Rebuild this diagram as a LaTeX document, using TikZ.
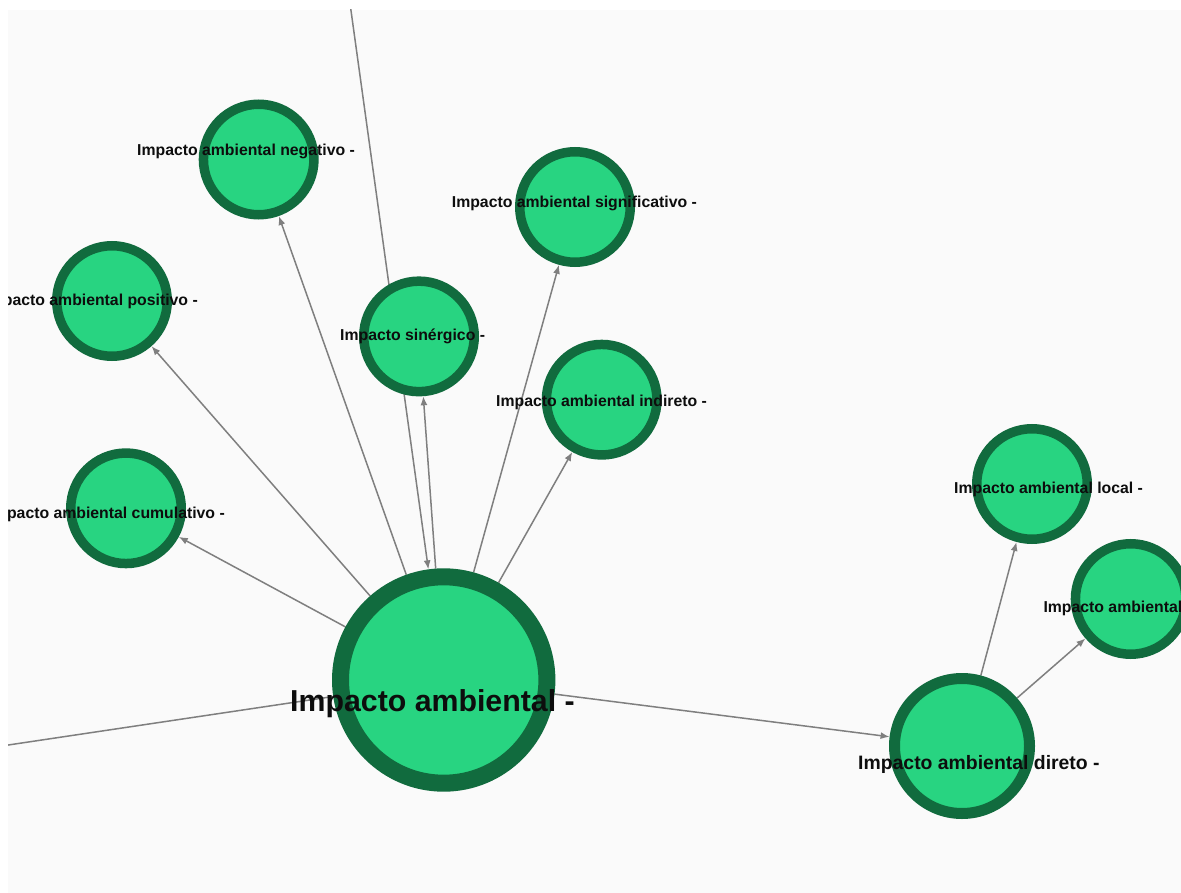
\documentclass[tikz,border=0pt]{standalone}
\usepackage{fontspec}
\setmainfont{Liberation Sans}
\usetikzlibrary{arrows.meta}
\definecolor{panel}{HTML}{FAFAFA}
\definecolor{nodefill}{HTML}{28D481}
\definecolor{nodeline}{HTML}{116B3E}
\definecolor{edgecol}{HTML}{7F7F7F}
\pgfdeclarelayer{bglayer}
\pgfdeclarelayer{edgelayer}
\pgfsetlayers{bglayer,edgelayer,main}
\tikzset{
  bignode/.style={circle, fill=nodefill, draw=nodeline, line width=17pt, minimum size=206.4pt, inner sep=0pt},
  midnode/.style={circle, fill=nodefill, draw=nodeline, line width=11pt, minimum size=135pt, inner sep=0pt},
  smallnode/.style={circle, fill=nodefill, draw=nodeline, line width=9.5pt, minimum size=110.5pt, inner sep=0pt},
  lbl/.style={inner sep=0pt, text=black!95, anchor=base west},
  lblsmall/.style={lbl, font=\bfseries\fontsize{15.8}{18}\selectfont},
  lblmid/.style={lbl, font=\bfseries\fontsize{19.4}{22}\selectfont},
  lblbig/.style={lbl, font=\bfseries\fontsize{30.3}{34}\selectfont},
  link/.style={draw=edgecol, line width=1.5pt, -{Latex[length=9pt,width=7pt]}},
  plainlink/.style={draw=edgecol, line width=1.5pt}
}
\begin{document}
\begin{tikzpicture}[x=1pt,y=-1pt]
\useasboundingbox (0,0) rectangle (1181,893);
\begin{pgfonlayer}{bglayer}
  \fill[white] (0,0) rectangle (1181,893);
  \fill[panel] (8,10) rectangle (1181,893);
\end{pgfonlayer}
\begin{scope}
\clip (8,10) rectangle (1181,893);
% nodes
\node[bignode] (big) at (443.7,680) {};
\node[midnode] (direto) at (962,746) {};
\node[smallnode] (regional) at (1130.7,599) {};
\node[smallnode] (local) at (1032,484) {};
\node[smallnode] (negat) at (258.7,159.5) {};
\node[smallnode] (posit) at (112,301) {};
\node[smallnode] (cumul) at (126,508.3) {};
\node[smallnode] (signif) at (575,207) {};
\node[smallnode] (indir) at (601.7,399.7) {};
\node[smallnode] (siner) at (419,336.4) {};
\coordinate (topc) at (342.6,-50);
\coordinate (leftc) at (-50,753.7);
% labels
\node[lblsmall] (lnegat) at (137,156) {Impacto ambiental negativo -};
\node[lblsmall, anchor=base east] (lposit) at (198,305.7) {Impacto ambiental positivo -};
\node[lblsmall, anchor=base east] (lcumul) at (225,518.4) {Impacto ambiental cumulativo -};
\node[lblsmall] (lsigni) at (451.7,207.5) {Impacto ambiental significativo -};
\node[lblsmall] (lindir) at (496,406.5) {Impacto ambiental indireto -};
\node[lblsmall] (lsiner) at (340,341) {Impacto sinérgico -};
\node[lblsmall] (llocal) at (954,493.4) {Impacto ambiental local -};
\node[lblsmall] (lregio) at (1043.3,612.7) {Impacto ambiental};
\node[lblmid] (ldireto) at (858,769) {Impacto ambiental direto -};
\node[lblbig] (lbig) at (290,711.7) {Impacto ambiental -};
\end{scope}
\begin{pgfonlayer}{edgelayer}
\begin{scope}
\clip (8,10) rectangle (1181,893);
\draw[link] (big) -- (cumul);
\draw[link] (big) -- (posit);
\draw[link] (big) -- (negat);
\draw[link] (big) -- (siner);
\draw[link] (big) -- (signif);
\draw[link] (big) -- (indir);
\draw[link] (big) -- (direto);
\draw[link] (topc) -- (big);
\draw[plainlink] (leftc) -- (big);
\draw[link] (direto) -- (local);
\draw[link] (direto) -- (regional);
\end{scope}
\end{pgfonlayer}
\end{tikzpicture}
\end{document}
